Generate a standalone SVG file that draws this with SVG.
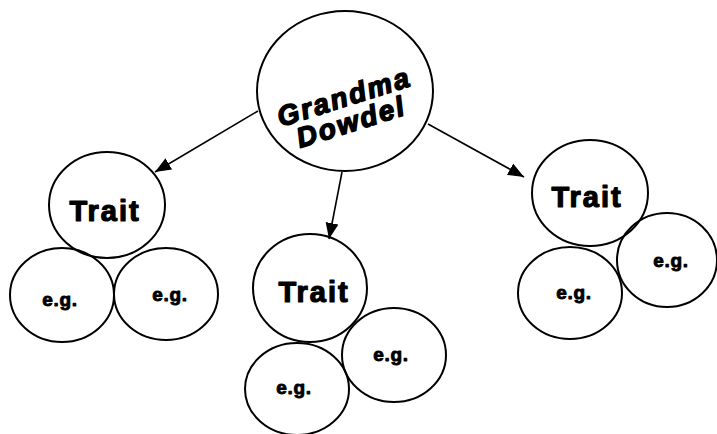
<svg xmlns="http://www.w3.org/2000/svg" width="717" height="434" viewBox="0 0 717 434">
<style>
.n{fill:none;stroke:#000;stroke-width:2}
.t{font-family:"Liberation Sans",Arial,sans-serif;font-weight:bold;text-anchor:middle;fill:#000;stroke:#000;stroke-linejoin:round}
.trait{font-size:29px;stroke-width:1.2;letter-spacing:2px}
.eg{font-size:19px;stroke-width:0.9;letter-spacing:0.7px}
.gd{font-size:28px;font-style:italic;stroke-width:1.5;letter-spacing:2.3px}
.c{stroke:#000;stroke-width:1.6;fill:none;marker-end:url(#ah)}
</style>
<defs>
<marker id="ah" viewBox="0 0 16 16" refX="16" refY="8" markerWidth="16" markerHeight="16" markerUnits="userSpaceOnUse" orient="auto">
<path d="M0,1.5 L16,8 L0,14.5 z" fill="#000"/>
</marker>
</defs>
<rect width="717" height="434" fill="#fff"/>
<g id="connectors">
<line class="c" x1="258" y1="111" x2="155" y2="172"/>
<line class="c" x1="342" y1="172" x2="329" y2="239"/>
<line class="c" x1="428" y1="124" x2="524" y2="177"/>
</g>
<g id="grandma">
<ellipse class="n" cx="345" cy="91" rx="88" ry="80"/>
<text class="t gd" transform="translate(347,106) rotate(-17.5)">Grandma</text>
<text class="t gd" transform="translate(354,131) rotate(-17.5)">Dowdel</text>
</g>
<g id="trait1"><ellipse class="n" cx="107" cy="205" rx="58" ry="53"/><text class="t trait" x="105" y="221">Trait</text></g>
<g id="eg1"><ellipse class="n" cx="62" cy="295" rx="52" ry="47"/><text class="t eg" x="60" y="306">e.g.</text></g>
<g id="eg2"><ellipse class="n" cx="166" cy="294" rx="52" ry="46"/><text class="t eg" x="170" y="301">e.g.</text></g>
<g id="trait2"><ellipse class="n" cx="310" cy="288" rx="57" ry="54"/><text class="t trait" x="314" y="302">Trait</text></g>
<g id="eg3"><ellipse class="n" cx="394" cy="355" rx="52" ry="47"/><text class="t eg" x="391" y="361">e.g.</text></g>
<g id="eg4"><ellipse class="n" cx="297" cy="389" rx="52" ry="46"/><text class="t eg" x="294" y="394">e.g.</text></g>
<g id="trait3"><ellipse class="n" cx="590" cy="193" rx="58" ry="53"/><text class="t trait" x="587" y="207">Trait</text></g>
<g id="eg5"><ellipse class="n" cx="570" cy="293" rx="52" ry="46"/><text class="t eg" x="574" y="299">e.g.</text></g>
<g id="eg6"><ellipse class="n" cx="667" cy="260" rx="50" ry="47"/><text class="t eg" x="671" y="267">e.g.</text></g>
</svg>
